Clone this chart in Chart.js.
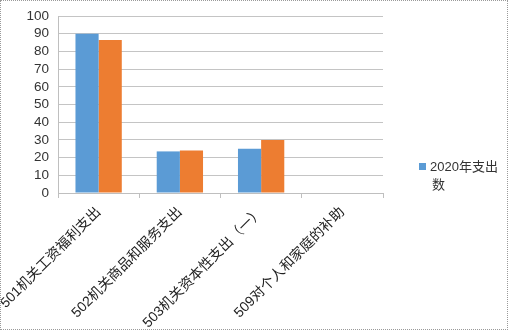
<!DOCTYPE html>
<html>
<head>
<meta charset="utf-8">
<script src="https://cdn.jsdelivr.net/npm/chart.js@4"></script>
<style>
  html, body { margin: 0; padding: 0; background: #fff; }
  #wrap { width: 508px; height: 330px; box-sizing: border-box; border: 1px dotted #9a9a9a; position: relative; }
  canvas { position: absolute; left: 0; top: 0; }
</style>
</head>
<body>
<div id="wrap"><canvas id="chart" width="508" height="330"></canvas></div>
<script>
const categories = ["501机关工资福利支出", "502机关商品和服务支出", "503机关资本性支出（一）", "509对个人和家庭的补助"];
const spend2020 = [90, 23.5, 25, 0];
const spendOther = [86.5, 24, 30, 0];
const yTicks = [0, 10, 20, 30, 40, 50, 60, 70, 80, 90, 100];
const legendLines = ["2020年支出", "数"];

const fontFamily = "'Liberation Sans', 'Noto Sans CJK SC', sans-serif";

// legend on the right, text wraps onto two lines
const sideLegend = {
  id: 'sideLegend',
  afterDraw(chart) {
    const ctx = chart.ctx;
    ctx.save();
    ctx.fillStyle = '#5B9BD5';
    ctx.fillRect(418, 162, 7, 7);
    ctx.fillStyle = '#333';
    ctx.font = "13px " + fontFamily;
    ctx.textBaseline = 'middle';
    ctx.fillText(legendLines[0], 429, 166);
    ctx.fillText(legendLines[1], 431, 184);
    ctx.restore();
  }
};

new Chart(document.getElementById('chart'), {
  type: 'bar',
  data: {
    labels: categories,
    datasets: [
      { label: '2020年支出数', data: spend2020, backgroundColor: '#5B9BD5' },
      { label: '', data: spendOther, backgroundColor: '#ED7D31' }
    ]
  },
  options: {
    responsive: false,
    animation: false,
    layout: { padding: { top: 15, right: 126, left: 0, bottom: 0 } },
    datasets: { bar: { categoryPercentage: 0.57, barPercentage: 1 } },
    plugins: { legend: { display: false }, tooltip: { enabled: false } },
    scales: {
      x: {
        offset: true,
        grid: { offset: true, drawOnChartArea: false, drawTicks: true, tickLength: 5, color: '#bfbfbf' },
        border: { color: '#bfbfbf' },
        ticks: { color: '#222', font: { size: 14, family: fontFamily }, minRotation: 45, maxRotation: 45, padding: 6 },
        afterFit(axis) { axis.height = 138; axis.paddingLeft = 0; axis.paddingRight = 0; }
      },
      y: {
        min: 0, max: 100,
        afterBuildTicks(axis) { axis.ticks = yTicks.map(v => ({ value: v })); },
        grid: { color: '#c4c4c4', drawTicks: false },
        border: { color: '#bfbfbf' },
        ticks: { color: '#333', font: { size: 13.5, family: fontFamily }, padding: 9, autoSkip: false, stepSize: 10 },
        afterFit(axis) { axis.width = 57; axis.paddingTop = 0; axis.paddingBottom = 0; }
      }
    }
  },
  plugins: [sideLegend]
});
</script>
</body>
</html>
